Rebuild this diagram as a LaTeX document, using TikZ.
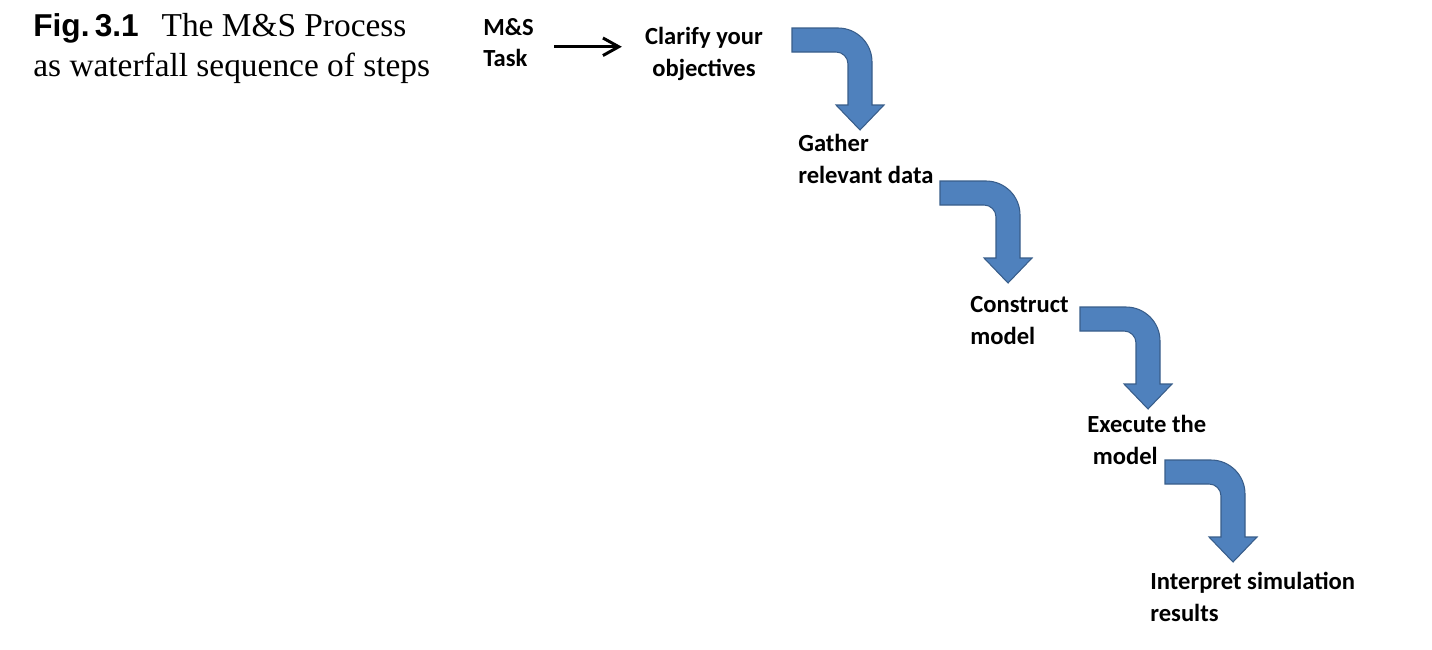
\documentclass[tikz,border=0pt]{standalone}
\usepackage{fontspec}
\setmainfont{Liberation Serif}
\newfontfamily\stepfont{Carlito}
\newfontfamily\figfont{Liberation Sans}
\usetikzlibrary{arrows.meta}
\definecolor{arrowblue}{RGB}{79,129,189}
\definecolor{arrowedge}{RGB}{56,93,138}
\begin{document}
\begin{tikzpicture}[
        x=0.02cm, y=0.02cm,
        stage/.style={inner sep=0pt, align=left, anchor=north west, font=\stepfont\bfseries\fontsize{14}{18}\selectfont},
        flow/.style={-{Straight Barb[length=9pt,width=10pt]}, line width=1.7pt},
        arrowfill/.style={fill=arrowblue, draw=arrowedge, line width=0.6pt},
        bentarrow/.pic={
            \draw[arrowfill] (0,0) -- (46,0) arc[start angle=90, end angle=0, radius=34] -- (80,-77) -- (92,-77) -- (68,-102) -- (44,-77) -- (56,-77) -- (56,-36) arc[start angle=0, end angle=90, radius=12] -- (0,-24) -- cycle;
        }
    ]
        \useasboundingbox (0,0) rectangle (1432,-649);

        % Caption
        \node[inner sep=0pt, align=left, anchor=north west, font=\fontsize{19}{23}\selectfont] (caption) at (33,-13)
            {{\figfont\bfseries\fontsize{18}{23}\selectfont Fig.\,3.1}\hspace{13pt}The M\&S Process\\as waterfall sequence of steps};

        % Steps
        \node[stage] (task) at (483,-18) {M\&S\\Task};
        \node[stage, anchor=north, align=center] (clarify) at (704,-27) {Clarify your\\objectives};
        \node[stage] (gather) at (798,-134) {Gather\\relevant data};
        \node[stage] (construct) at (970,-296) {Construct\\model};
        \node[stage] (execute) at (1087,-415) {Execute the\\\ model};
        \node[stage] (interpret) at (1150,-572) {Interpret simulation\\results};

        % Arrows
        \draw[flow, shorten <=0.4cm, shorten >=0.46cm] ([yshift=-0.08cm]task.east) -- ([yshift=-0.08cm]task.east -| clarify.west);
        \pic at (792,-28) {bentarrow};
        \pic at (940,-181) {bentarrow};
        \pic at (1080,-307) {bentarrow};
        \pic at (1165,-460) {bentarrow};
    \end{tikzpicture}
\end{document}
